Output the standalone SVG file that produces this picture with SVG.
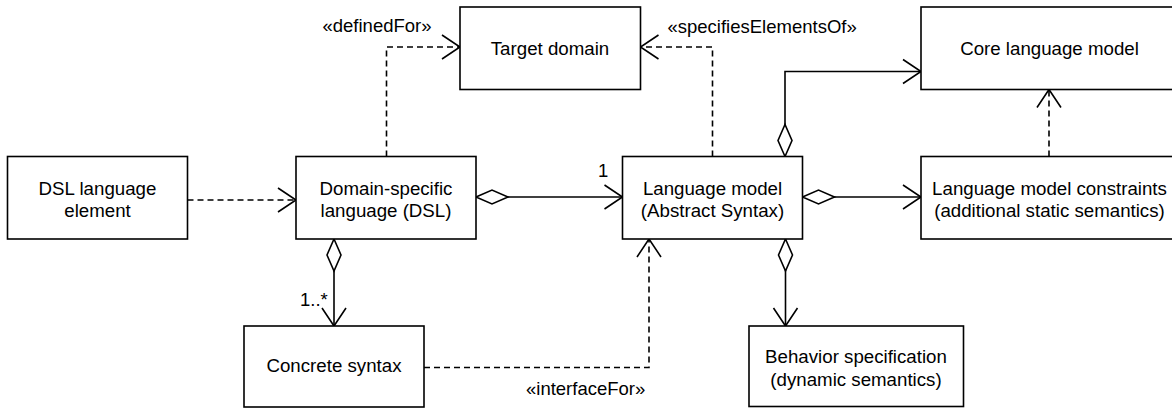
<svg xmlns="http://www.w3.org/2000/svg" width="1172" height="408" viewBox="0 0 1172 408">
<style>
.box{fill:#fff;stroke:#000;stroke-width:1.6}
.t{font-family:"Liberation Sans",Arial,sans-serif;font-size:18.7px;fill:#000;text-anchor:middle}
.l{font-family:"Liberation Sans",Arial,sans-serif;font-size:18.5px;fill:#000}
.c{fill:none;stroke:#000;stroke-width:1.6}
.d{stroke-dasharray:6,4}
</style>
<defs>
<marker id="arr" markerUnits="userSpaceOnUse" orient="auto" refX="0" refY="0" markerWidth="40" markerHeight="40" overflow="visible">
<path d="M-18,-12 L0,0 L-18,12" fill="none" stroke="#000" stroke-width="1.6" stroke-dasharray="none"/>
</marker>
<marker id="dia" markerUnits="userSpaceOnUse" orient="auto" refX="0" refY="0" markerWidth="40" markerHeight="40" overflow="visible">
<path d="M0,0 L16,-7 L32,0 L16,7 Z" fill="#fff" stroke="#000" stroke-width="1.6" stroke-dasharray="none"/>
</marker>
</defs>
<rect width="1172" height="408" fill="#fff"/>
<g id="connectors">
<path class="c d" d="M187.5,200 L296,200" marker-end="url(#arr)"/>
<path class="c d" d="M386.5,156.5 L386.5,47 L460,47" marker-end="url(#arr)"/>
<path class="c" d="M476,197 L622.5,197" marker-start="url(#dia)" marker-end="url(#arr)"/>
<path class="c d" d="M712.5,156.5 L712.5,47 L640.5,47" marker-end="url(#arr)"/>
<path class="c" d="M785,156.5 L785,71.5 L921,71.5" marker-start="url(#dia)" marker-end="url(#arr)"/>
<path class="c" d="M802.5,197 L921,197" marker-start="url(#dia)" marker-end="url(#arr)"/>
<path class="c d" d="M1049,156.5 L1049,89.5" marker-end="url(#arr)"/>
<path class="c" d="M785.5,239 L785.5,326" marker-start="url(#dia)" marker-end="url(#arr)"/>
<path class="c" d="M334,239 L334,326" marker-start="url(#dia)" marker-end="url(#arr)"/>
<path class="c d" d="M424,367.5 L649,367.5 L649,239" marker-end="url(#arr)"/>
<text class="l" x="598" y="177">1</text>
<text class="l" x="300" y="306">1..*</text>
<text class="l" x="322.5" y="32">«definedFor»</text>
<text class="l" x="667.5" y="33">«specifiesElementsOf»</text>
<text class="l" x="526" y="395">«interfaceFor»</text>
</g>
<g id="dsl-element">
<rect class="box" x="7.5" y="156.5" width="180" height="82.5"/>
<text class="t" x="97.5" y="194.5">DSL language</text>
<text class="t" x="97.5" y="217">element</text>
</g>
<g id="dsl">
<rect class="box" x="296" y="156.5" width="180" height="82.5"/>
<text class="t" x="386" y="194.5">Domain-specific</text>
<text class="t" x="386" y="217">language (DSL)</text>
</g>
<g id="language-model">
<rect class="box" x="622.5" y="156.5" width="180" height="82.5"/>
<text class="t" x="712.5" y="194.5">Language model</text>
<text class="t" x="712.5" y="217">(Abstract Syntax)</text>
</g>
<g id="constraints">
<rect class="box" x="921" y="156.5" width="256" height="82.5"/>
<text class="t" x="1049.5" y="194.5">Language model constraints</text>
<text class="t" x="1049.5" y="217">(additional static semantics)</text>
</g>
<g id="target-domain">
<rect class="box" x="460" y="7" width="180.5" height="82.5"/>
<text class="t" x="550" y="55">Target domain</text>
</g>
<g id="core-model">
<rect class="box" x="921" y="7" width="256" height="82.5"/>
<text class="t" x="1049.5" y="55">Core language model</text>
</g>
<g id="concrete-syntax">
<rect class="box" x="244" y="326" width="180" height="81"/>
<text class="t" x="334" y="372">Concrete syntax</text>
</g>
<g id="behavior">
<rect class="box" x="749" y="326" width="214.5" height="80.5"/>
<text class="t" x="856" y="363">Behavior specification</text>
<text class="t" x="856" y="385.5">(dynamic semantics)</text>
</g>
</svg>
